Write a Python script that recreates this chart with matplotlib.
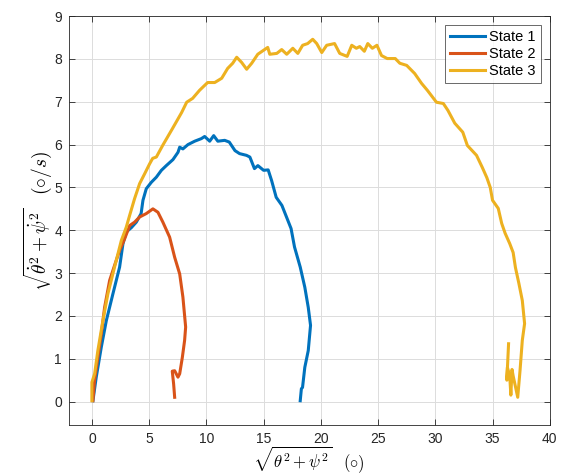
import matplotlib
matplotlib.use("Agg")
import matplotlib.pyplot as plt

# -----------------------
# DATA
# -----------------------
s1_x = [0.09, 0.38, 0.82, 1.26, 1.84, 2.42, 2.71, 3.0, 3.44, 3.88, 4.3, 4.46, 4.75,
        5.19, 5.63, 6.07, 6.5, 7.08, 7.52, 7.67, 7.95, 8.39, 8.98, 9.56, 9.85, 10.29,
        10.64, 11.0, 11.6, 12.0, 12.5, 12.9, 13.5, 13.8, 14.2, 14.5, 15.0, 15.4, 15.7,
        16.1, 16.6, 17.0, 17.4, 17.7, 18.2, 18.6, 18.9, 19.1, 18.9, 18.6, 18.4, 18.3,
        18.2]
s1_y = [0.02, 0.57, 1.27, 1.89, 2.52, 3.14, 3.68, 3.96, 4.06, 4.19, 4.39, 4.70, 4.97,
        5.12, 5.24, 5.40, 5.51, 5.65, 5.82, 5.94, 5.90, 6.00, 6.08, 6.14, 6.19, 6.08,
        6.21, 6.08, 6.10, 6.06, 5.86, 5.79, 5.75, 5.71, 5.44, 5.51, 5.40, 5.41, 5.16,
        4.77, 4.58, 4.31, 4.04, 3.61, 3.14, 2.67, 2.20, 1.78, 1.19, 0.80, 0.33, 0.30,
        0.02]

s2_x = [0.09, 0.23, 0.52, 0.82, 1.11, 1.55, 1.98, 2.42, 2.86, 3.3, 3.73, 4.17, 4.75,
        5.33, 5.77, 6.2, 6.79, 7.23, 7.67, 7.95, 8.19, 8.1, 7.9, 7.67, 7.52, 7.23,
        7.02, 7.14, 7.23]
s2_y = [0.02, 0.49, 1.03, 1.58, 2.20, 2.83, 3.18, 3.53, 3.80, 4.11, 4.19, 4.31, 4.39,
        4.50, 4.42, 4.19, 3.84, 3.37, 2.98, 2.44, 1.74, 1.43, 1.03, 0.65, 0.57, 0.72,
        0.71, 0.41, 0.10]

s3_x = [0.0, 0.0, 0.24, 0.52, 0.96, 1.4, 1.98, 2.57, 3.0, 3.3, 3.73, 4.17, 4.61, 5.04,
        5.31, 5.63, 6.18, 7.05, 7.84, 8.28, 8.80, 9.41, 10.11, 10.73, 11.34, 11.86,
        12.30, 12.65, 13.08, 13.52, 13.96, 14.49, 15.36, 15.54, 16.15, 16.58, 17.02,
        17.55, 17.99, 18.41, 18.85, 19.29, 19.64, 20.08, 20.51, 21.2, 21.65, 22.3,
        22.7, 23.1, 23.4, 23.8, 24.1, 24.5, 24.9, 25.3, 25.8, 26.5, 26.9, 27.5, 28.2,
        28.8, 29.3, 30.1, 30.7, 31.1, 31.7, 32.4, 32.8, 33.6, 34.1, 34.5, 34.8, 35.0,
        35.5, 35.8, 36.1, 36.5, 36.8, 37.0, 37.3, 37.6, 37.8, 37.6, 37.4, 37.2, 37.0,
        36.8, 36.7, 36.6, 36.5, 36.3, 36.25, 36.4]
s3_y = [0.02, 0.45, 0.65, 1.19, 1.89, 2.52, 3.14, 3.76, 4.07, 4.35, 4.74, 5.09, 5.32,
        5.55, 5.68, 5.71, 5.98, 6.38, 6.75, 6.99, 7.08, 7.27, 7.45, 7.45, 7.55, 7.78,
        7.90, 8.04, 7.92, 7.76, 7.90, 8.11, 8.27, 8.11, 8.13, 8.22, 8.11, 8.25, 8.13,
        8.32, 8.36, 8.46, 8.36, 8.15, 8.32, 8.36, 8.13, 8.06, 8.32, 8.25, 8.29, 8.18,
        8.36, 8.25, 8.32, 8.08, 8.01, 8.01, 7.90, 7.85, 7.66, 7.43, 7.27, 6.99, 6.96,
        6.80, 6.50, 6.29, 5.98, 5.75, 5.47, 5.23, 5.00, 4.70, 4.51, 4.16, 3.93, 3.69,
        3.48, 3.13, 2.76, 2.36, 1.82, 1.43, 0.72, 0.10, 0.35, 0.60, 0.75, 0.15, 0.60,
        0.80, 0.50, 1.35]

labels = ["State 1", "State 2", "State 3"]
colors = ["#0072BD", "#D95319", "#EDB120"]

x_ticks = list(range(0, 45, 5))
y_ticks = list(range(0, 10))

# -----------------------
# FIGURE
# -----------------------
plt.rcParams["font.family"] = ["Liberation Sans", "DejaVu Sans"]
plt.rcParams["mathtext.fontset"] = "cm"

fig = plt.figure(figsize=(5.61, 4.75), dpi=100)
ax = fig.add_axes([0.123, 0.105, 0.857, 0.861])

for xs, ys, lab, col in zip([s1_x, s2_x, s3_x], [s1_y, s2_y, s3_y], labels, colors):
    ax.plot(xs, ys, color=col, lw=2.2, label=lab)

ax.set_xlim(-2, 40)
ax.set_ylim(-0.55, 9)
ax.set_xticks(x_ticks)
ax.set_yticks(y_ticks)
ax.tick_params(direction="in", top=True, right=True, labelsize=10, length=4,
               width=0.6, colors="#262626", pad=5)
ax.grid(True, color="#dcdcdc", lw=0.7)
ax.set_axisbelow(True)
for sp in ax.spines.values():
    sp.set_color("#262626")
    sp.set_linewidth(0.6)

ax.set_xlabel(r"$\sqrt{\theta^2+\psi^2}\;\;\;(\circ)$", fontsize=12, labelpad=-1)
ax.set_ylabel(r"$\sqrt{\dot{\theta}^2+\dot{\psi}^2}\;\;\;(\circ/s)$", fontsize=14,
              labelpad=0)

leg = ax.legend(loc="upper right", fontsize=10.5, frameon=True, fancybox=False,
                edgecolor="#262626", borderaxespad=0.6, handlelength=2.4,
                handletextpad=0.3, borderpad=0.35, labelspacing=0.2)
leg.get_frame().set_linewidth(0.6)

fig.savefig("out.png", dpi=100)
